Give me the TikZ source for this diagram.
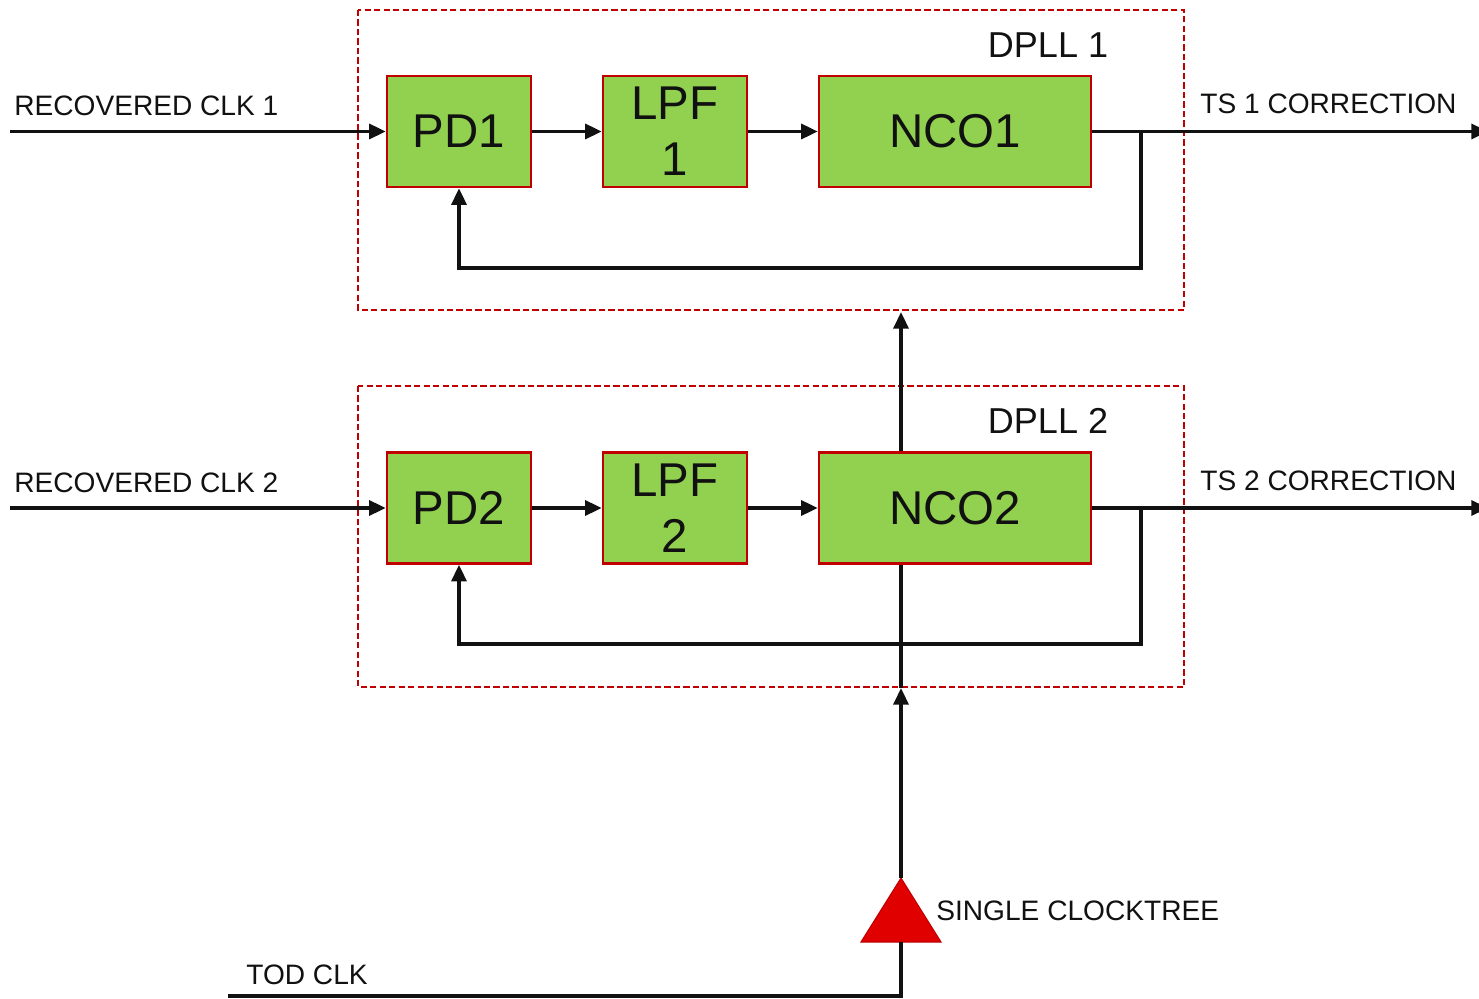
\documentclass[tikz,border=0pt]{standalone}
\usepackage{fontspec}
\setmainfont{Liberation Sans}
\usepackage{tikz}
\usetikzlibrary{arrows.meta,positioning,calc}
\definecolor{LoopGreen}{HTML}{92D050}
\definecolor{LoopRed}{HTML}{C00000}
\definecolor{TreeRed}{HTML}{E00000}
\definecolor{LoopInk}{HTML}{111111}
\tikzset{
  blocklabel/.style={font=\fontsize{27}{32}\selectfont, text=LoopInk},
  siglabel/.style={font=\fontsize{16}{18}\selectfont, text=LoopInk, inner sep=0pt},
  titlelabel/.style={font=\fontsize{20.5}{24}\selectfont, text=LoopInk},
  blockbox/.style={blocklabel, draw=LoopRed, fill=LoopGreen, line width=1.4pt, align=center, inner sep=0pt},
  smallblock/.style={blockbox, minimum width=2.88cm, minimum height=2.22cm},
  wideblock/.style={blockbox, minimum width=5.44cm, minimum height=2.22cm},
  pllframe/.style={draw=LoopRed, line width=1.1pt, dash pattern=on 3.6pt off 1.8pt},
  sigline/.style={line width=2pt, draw=LoopInk},
  sigarrow/.style={sigline, -{Triangle[length=9.5pt,width=8.5pt]}}
}

\begin{document}
\begin{tikzpicture}[x=0.02cm, y=-0.02cm]
\useasboundingbox (0,0) rectangle (1479,999);
% dashed frames of the two loops
\draw[pllframe] (358,10) rectangle (1184,310);
\draw[pllframe] (358,386) rectangle (1184,687);
\node[titlelabel] (dpllA) at (1048,45) {DPLL 1};
\node[titlelabel] (dpllB) at (1048,421) {DPLL 2};
% loop 1
\node[smallblock] (pdA) at (459,131.5) {PD1};
\node[smallblock] (lpfA) at (675,131.5) {LPF\\1};
\node[wideblock] (ncoA) at (955,131.5) {NCO1};
% loop 2
\node[smallblock] (pdB) at (459,508) {PD2};
\node[smallblock] (lpfB) at (675,508) {LPF\\2};
\node[wideblock] (ncoB) at (955,508) {NCO2};
% inputs and outputs
\coordinate (inA) at (10,131.5);
\coordinate (inB) at (10,508);
\coordinate (outA) at (1488,131.5);
\coordinate (outB) at (1488,508);
\node[siglabel, anchor=west] (recA) at (14,106) {RECOVERED CLK 1};
\node[siglabel, anchor=west] (recB) at (14,483) {RECOVERED CLK 2};
\node[siglabel, anchor=west] (tsA) at (1200,104) {TS 1 CORRECTION};
\node[siglabel, anchor=west] (tsB) at (1200,481) {TS 2 CORRECTION};
\draw[sigarrow] (inA) -- (pdA);
\draw[sigarrow] (inB) -- (pdB);
\draw[sigarrow] (pdA) -- (lpfA);
\draw[sigarrow] (lpfA) -- (ncoA);
\draw[sigarrow] (pdB) -- (lpfB);
\draw[sigarrow] (lpfB) -- (ncoB);
\draw[sigarrow] (ncoA) -- (outA);
\draw[sigarrow] (ncoB) -- (outB);
% feedback paths
\draw[sigarrow] (1141,131.5) -- (1141,268) -| (pdA.south);
\draw[sigarrow] (1141,508) -- (1141,644) -| (pdB.south);
% clock tree
\coordinate (todIn) at (228,996);
\coordinate (treeBase) at (901,942);
\coordinate (treeTop) at (901,878);
\coordinate (frameB) at (901,688);
\coordinate (frameA) at (901,312);
\fill[TreeRed, draw=LoopRed, line width=0.6pt] (861,942) -- (treeTop) -- (941,942) -- cycle;
\node[siglabel, anchor=west] (treeLbl) at (936,911) {SINGLE CLOCKTREE};
\node[siglabel, anchor=west] (todLbl) at (246,975) {TOD CLK};
\draw[sigline] (todIn) -| (treeBase);
\draw[sigarrow] (treeTop) -- (frameB);
\draw[sigline] (frameB) -- (ncoB.south -| frameB);
\draw[sigarrow] (ncoB.north -| frameA) -- (frameA);
\end{tikzpicture}
\end{document}
